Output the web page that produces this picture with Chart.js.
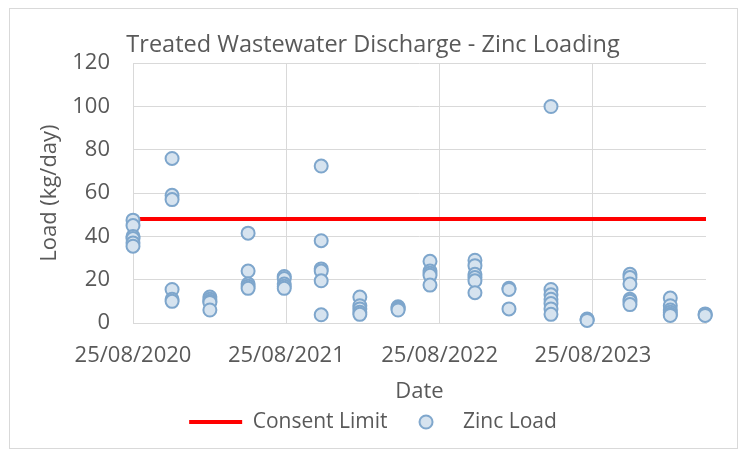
<!DOCTYPE html>
<html>
<head>
<meta charset="utf-8">
<script src="https://cdn.jsdelivr.net/npm/chart.js@4"></script>
<style>
  html, body { margin: 0; padding: 0; background: #fff; }
  #wrap { width: 743px; height: 455px; }
</style>
</head>
<body>
<div id="wrap"><canvas id="zincchart" width="743" height="455"></canvas></div>
<script>
// sampling rounds (dates) and the zinc loads measured on each
const sampleDates = [
  '2020-08-25', '2020-11-26', '2021-02-24', '2021-05-26', '2021-08-20', '2021-11-16',
  '2022-02-16', '2022-05-18', '2022-08-02', '2022-11-17', '2023-02-06', '2023-05-17',
  '2023-08-11', '2023-11-21', '2024-02-25', '2024-05-18'
];
const zincLoads = [
  [47.5, 45, 40, 39, 37, 35.5],
  [76, 59, 57, 15.5, 11, 10],
  [12, 11, 10, 9.5, 6],
  [41.5, 24, 18, 17, 16],
  [21.5, 20.5, 18, 17, 16],
  [72.5, 38, 25, 24, 19.5, 3.8],
  [12, 8, 6.5, 5, 4],
  [7.5, 7, 6.5, 6],
  [28.5, 24, 23, 22, 17.5],
  [29, 26.5, 22.5, 21, 19.5, 14],
  [16, 15.5, 6.5],
  [100, 15.5, 13, 11, 9, 6.5, 4],
  [1.8, 1.5, 1.2],
  [22.5, 21, 18, 11, 10, 8.5],
  [11.5, 8, 6, 5, 4, 3.5],
  [4.2, 3.8, 3.5]
];
const consentLimit = 48;
const axisStart = '2020-08-25';
const axisEnd = '2024-05-20';
const xTickDates = ['2020-08-25', '2021-08-25', '2022-08-25', '2023-08-25'];
const yTicks = [0, 20, 40, 60, 80, 100, 120];

const DAY = 86400000;
const t0 = Date.parse(axisStart);
const toDays = d => Math.round((Date.parse(d) - t0) / DAY);
const fmt = v => {
  const d = new Date(t0 + v * DAY);
  const p = n => String(n).padStart(2, '0');
  return p(d.getUTCDate()) + '/' + p(d.getUTCMonth() + 1) + '/' + d.getUTCFullYear();
};

const zincPoints = [];
sampleDates.forEach((d, i) => {
  zincLoads[i].forEach(v => zincPoints.push({x: toDays(d), y: v}));
});
const limitPoints = [axisStart, axisEnd].map(d => ({x: toDays(d), y: consentLimit}));

const grey = '#595959';
const font = 'Open Sans';
const fill = 'rgb(214,227,239)';
const edge = 'rgb(126,166,204)';

// small circle image for the legend so it sits centred in the wide symbol slot
const dot = document.createElement('canvas');
dot.width = 18; dot.height = 18;
const dctx = dot.getContext('2d');
dctx.beginPath();
dctx.arc(9, 9, 6.5, 0, Math.PI * 2);
dctx.fillStyle = fill; dctx.fill();
dctx.lineWidth = 2; dctx.strokeStyle = edge; dctx.stroke();

const frame = {
  id: 'frame',
  afterDraw(chart) {
    const c = chart.ctx;
    c.save();
    c.strokeStyle = '#d9d9d9';
    c.lineWidth = 1;
    c.strokeRect(9.5, 8.5, 728, 440);
    c.restore();
  }
};

const ctx = document.getElementById('zincchart').getContext('2d');
const zincchart = new Chart(ctx, {
  data: {
    datasets: [{
      type: 'line',
      label: 'Consent Limit',
      data: limitPoints,
      borderColor: '#ff0000',
      backgroundColor: '#ff0000',
      borderWidth: 4,
      pointRadius: 0,
      pointStyle: 'line',
      order: 1
    }, {
      type: 'scatter',
      label: 'Zinc Load',
      data: zincPoints,
      backgroundColor: fill,
      borderColor: edge,
      borderWidth: 2,
      pointRadius: 6.5,
      pointHoverRadius: 6.5,
      clip: false,
      order: 0
    }]
  },
  options: {
    responsive: false,
    animation: false,
    layout: { padding: { top: 9, left: 9, right: 6, bottom: 12.5 } },
    scales: {
      x: {
        type: 'linear',
        min: 0,
        max: toDays(axisEnd),
        grid: { color: '#d9d9d9', drawTicks: false },
        border: { color: '#d9d9d9' },
        afterBuildTicks: s => { s.ticks = xTickDates.map(d => ({value: toDays(d)})); },
        ticks: {
          padding: 20,
          color: grey,
          font: { family: font, size: 22 },
          maxRotation: 0,
          autoSkip: false,
          callback: v => fmt(v)
        },
        title: {
          display: true, text: 'Date', color: grey,
          font: { family: font, size: 22 }, padding: { top: 0, bottom: -5.7 }
        },
        afterFit: s => { s.height = 76.5; }
      },
      y: {
        min: 0,
        max: 120,
        grid: { color: '#d9d9d9', drawTicks: false },
        border: { display: false },
        afterBuildTicks: s => { s.ticks = yTicks.map(v => ({value: v})); },
        ticks: {
          padding: 23,
          color: grey,
          font: { family: font, size: 22 }
        },
        title: {
          display: true, text: 'Load (kg/day)', color: grey,
          font: { family: font, size: 22 }, padding: { top: 27.8, bottom: 0 }
        },
        afterFit: s => { s.width = 124; }
      },
      // empty right-hand axis: reserves the gap right of the plot so title and legend centre on the frame
      spacer: {
        position: 'right',
        grid: { display: false },
        border: { display: false },
        ticks: { display: false },
        afterFit: s => { s.width = 31; }
      }
    },
    plugins: {
      title: {
        display: true,
        text: 'Treated Wastewater Discharge - Zinc Loading',
        color: grey,
        font: { family: font, size: 23.5, weight: 'normal' },
        padding: { top: 22, bottom: 4 }
      },
      legend: {
        position: 'bottom',
        labels: {
          color: grey,
          font: { family: font, size: 21 },
          usePointStyle: true,
          pointStyleWidth: 53,
          padding: 12,
          sort: (a, b) => a.datasetIndex - b.datasetIndex,
          generateLabels: chart => {
            const items = Chart.defaults.plugins.legend.labels.generateLabels(chart);
            items.forEach(it => {
              if (it.datasetIndex === 1) it.pointStyle = dot;
              else { it.pointStyle = 'line'; it.lineWidth = 4; }
            });
            return items;
          }
        }
      },
      tooltip: { enabled: false }
    }
  },
  plugins: [frame]
});
</script>
</body>
</html>
